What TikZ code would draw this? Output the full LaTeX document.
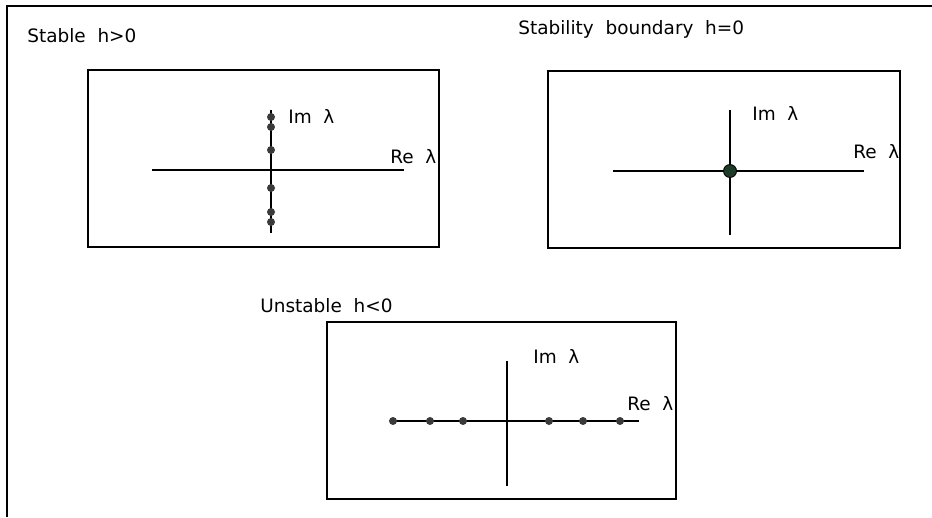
\documentclass[tikz,border=0pt]{standalone}
\usepackage{fontspec}
\setmainfont{DejaVu Sans}
\usepackage{xcolor}
\usepackage{tikz}
\usetikzlibrary{positioning}

\definecolor{rootgray}{HTML}{3A3A3A}
\definecolor{rootgreen}{HTML}{1E3A28}

\begin{document}
\begin{tikzpicture}[
x=0.02cm, y=-0.02cm,
font=\fontsize{10.5}{12}\selectfont,
lbl/.style={inner sep=0pt, anchor=west},
panel/.style={draw, line width=0.9pt},
axis/.style={line width=0.6pt},
root/.style={circle, fill=rootgray, inner sep=0pt, minimum size=0.16cm},
bigroot/.style={circle, draw=black, fill=rootgreen, line width=0.5pt, inner sep=0pt, minimum size=0.26cm}
]
\useasboundingbox (0,0) rectangle (932,517);
% page frame
\draw[line width=0.9pt] (7,517) |- (932,6);

% stable
\node[lbl] (stabletitle) at (27,36) {Stable\ \ h>0};
\draw[panel] (88,70) rectangle (439,247);
\draw[axis] (152,170) -- (404,170);
\draw[axis] (271,110) -- (271,233);
\foreach \y/\n in {117/a,127/b,150/c,188/d,212/e,222/f}
  \node[root] (s\n) at (271,\y) {};
\node[lbl] (stableim) at (288,116) {Im\ \ λ};
\node[lbl] (stablere) at (390,157) {Re\ \ λ};

% boundary
\node[lbl] (bndtitle) at (518,29) {Stability\ \ boundary\ \ h=0};
\draw[panel] (548,71) rectangle (900,248);
\draw[axis] (613,171) -- (864,171);
\draw[axis] (730,110) -- (730,235);
\node[bigroot] (b0) at (730,171) {};
\node[lbl] (bndim) at (752,113) {Im\ \ λ};
\node[lbl] (bndre) at (853,152) {Re\ \ λ};

% unstable
\node[lbl] (unsttitle) at (260,306) {Unstable\ \ h<0};
\draw[panel] (327,322) rectangle (676,499);
\draw[axis] (390,421) -- (639,421);
\draw[axis] (507,361) -- (507,486);
\foreach \x/\n in {393/a,430/b,463/c,549/d,583/e,620/f}
  \node[root] (u\n) at (\x,421) {};
\node[lbl] (unstim) at (533,356) {Im\ \ λ};
\node[lbl] (unstre) at (627,404) {Re\ \ λ};
\end{tikzpicture}
\end{document}
